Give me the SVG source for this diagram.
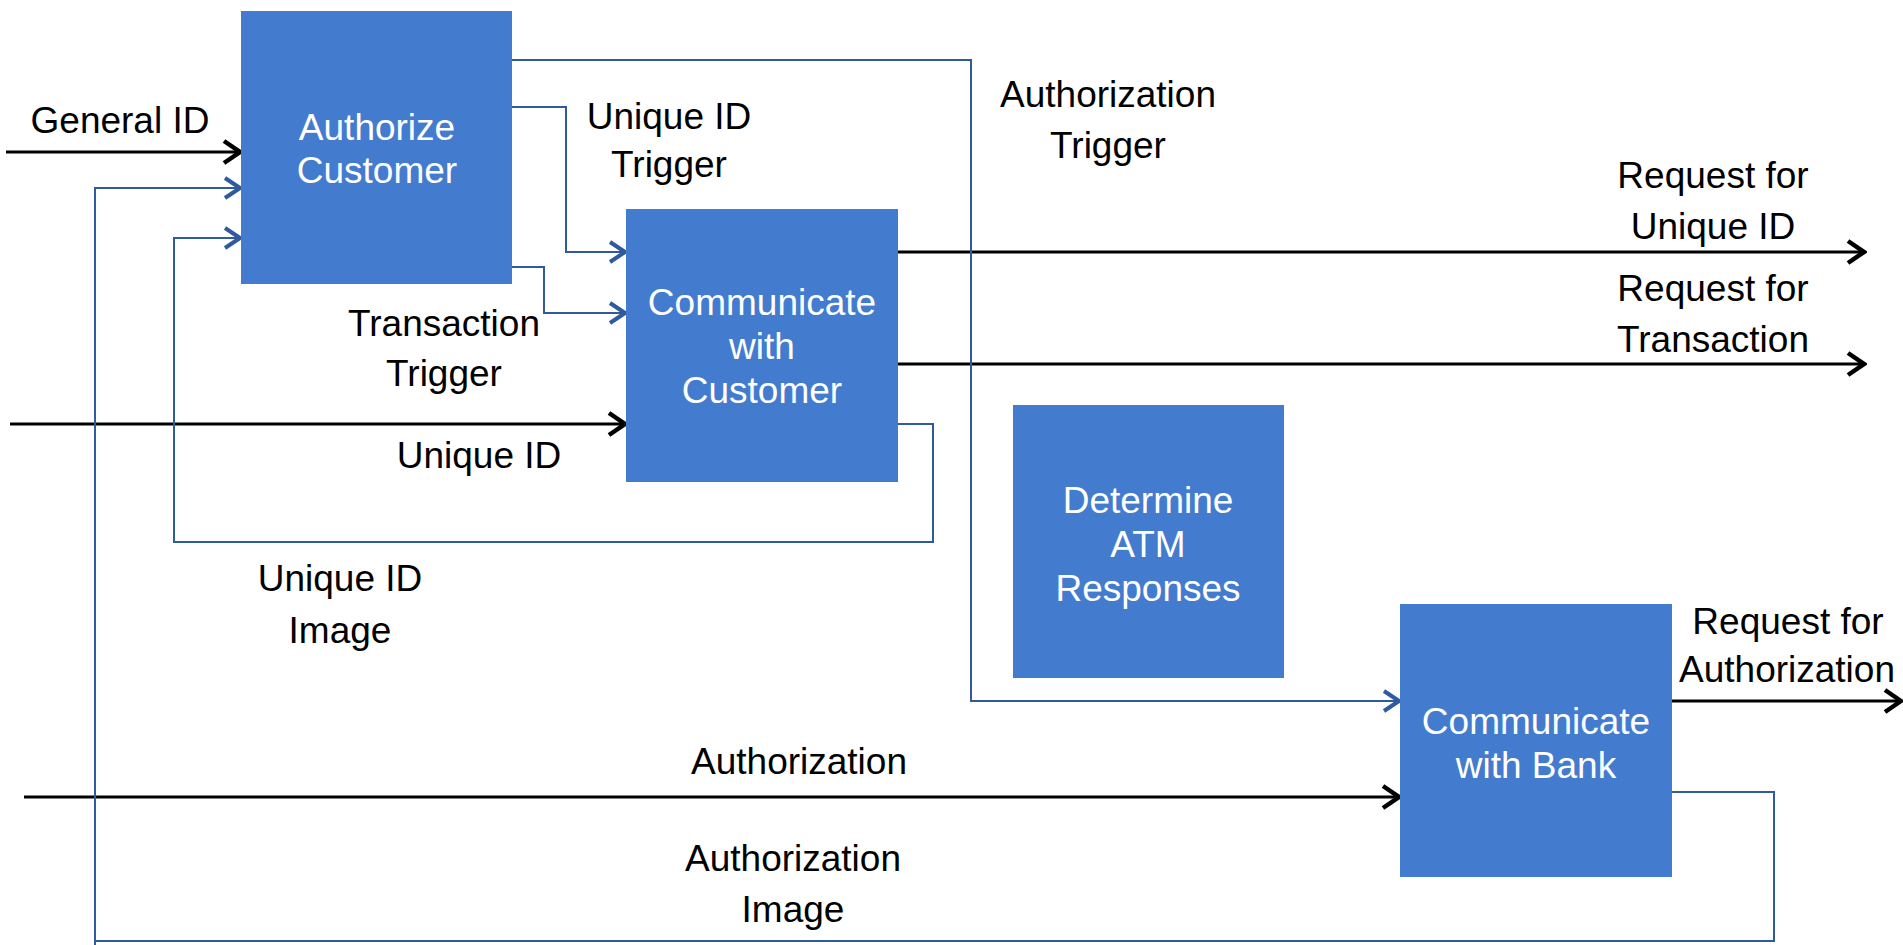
<svg xmlns="http://www.w3.org/2000/svg" width="1903" height="945" viewBox="0 0 1903 945">
<style>
.box{fill:#437CCE}
.bt{font-family:"Liberation Sans",Arial,sans-serif;font-size:37px;fill:#fff;text-anchor:middle}
.lb{font-family:"Liberation Sans",Arial,sans-serif;font-size:37px;fill:#000;text-anchor:middle}
.k{fill:none;stroke:#000;stroke-width:3}
.b{fill:none;stroke:#2F5A9E;stroke-width:2}
</style>
<defs>
<marker id="ak" markerUnits="userSpaceOnUse" markerWidth="26" markerHeight="30" viewBox="-24 -15 26 30" refX="0" refY="0" orient="auto">
<path d="M-17,-11 L-1,0 L-17,11" fill="none" stroke="#000" stroke-width="4.5"/>
</marker>
<marker id="ab" markerUnits="userSpaceOnUse" markerWidth="26" markerHeight="30" viewBox="-24 -15 26 30" refX="0" refY="0" orient="auto">
<path d="M-16,-10 L-1,0 L-16,10" fill="none" stroke="#2F5A9E" stroke-width="4"/>
</marker>
</defs>
<rect width="1903" height="945" fill="#fff"/>
<g id="connectors">
<path class="k" d="M6,152 H241" marker-end="url(#ak)"/>
<path class="k" d="M10,424 H626" marker-end="url(#ak)"/>
<path class="k" d="M898,252 H1865" marker-end="url(#ak)"/>
<path class="k" d="M898,364 H1865" marker-end="url(#ak)"/>
<path class="k" d="M1672,701 H1902" marker-end="url(#ak)"/>
<path class="k" d="M24,797 H1400" marker-end="url(#ak)"/>
<path class="b" d="M512,60 H971 V701 H1400" marker-end="url(#ab)"/>
<path class="b" d="M512,107 H566 V252 H626" marker-end="url(#ab)"/>
<path class="b" d="M512,267 H544 V313 H626" marker-end="url(#ab)"/>
<path class="b" d="M898,424 H933 V542 H174 V238 H241" marker-end="url(#ab)"/>
<path class="b" d="M1672,792 H1774 V941 H95 V188 H241" marker-end="url(#ab)"/>
<path class="b" d="M95,941 V945"/>
</g>
<g id="authorize-customer">
<rect class="box" x="241" y="11" width="271" height="273"/>
<text class="bt" x="377" y="140">Authorize</text>
<text class="bt" x="377" y="183">Customer</text>
</g>
<g id="communicate-customer">
<rect class="box" x="626" y="209" width="272" height="273"/>
<text class="bt" x="762" y="315">Communicate</text>
<text class="bt" x="762" y="359">with</text>
<text class="bt" x="762" y="403">Customer</text>
</g>
<g id="determine-atm">
<rect class="box" x="1013" y="405" width="271" height="273"/>
<text class="bt" x="1148" y="513">Determine</text>
<text class="bt" x="1148" y="557">ATM</text>
<text class="bt" x="1148" y="601">Responses</text>
</g>
<g id="communicate-bank">
<rect class="box" x="1400" y="604" width="272" height="273"/>
<text class="bt" x="1536" y="734">Communicate</text>
<text class="bt" x="1536" y="778">with Bank</text>
</g>
<g id="labels">
<text class="lb" x="120" y="133">General ID</text>
<text class="lb" x="669" y="129">Unique ID</text>
<text class="lb" x="669" y="177">Trigger</text>
<text class="lb" x="1108" y="107">Authorization</text>
<text class="lb" x="1108" y="158">Trigger</text>
<text class="lb" x="1713" y="188">Request for</text>
<text class="lb" x="1713" y="239">Unique ID</text>
<text class="lb" x="1713" y="301">Request for</text>
<text class="lb" x="1713" y="352">Transaction</text>
<text class="lb" x="444" y="336">Transaction</text>
<text class="lb" x="444" y="386">Trigger</text>
<text class="lb" x="479" y="468">Unique ID</text>
<text class="lb" x="340" y="591">Unique ID</text>
<text class="lb" x="340" y="643">Image</text>
<text class="lb" x="1788" y="634">Request for</text>
<text class="lb" x="1787" y="682">Authorization</text>
<text class="lb" x="799" y="774">Authorization</text>
<text class="lb" x="793" y="871">Authorization</text>
<text class="lb" x="793" y="922">Image</text>
</g>
</svg>
